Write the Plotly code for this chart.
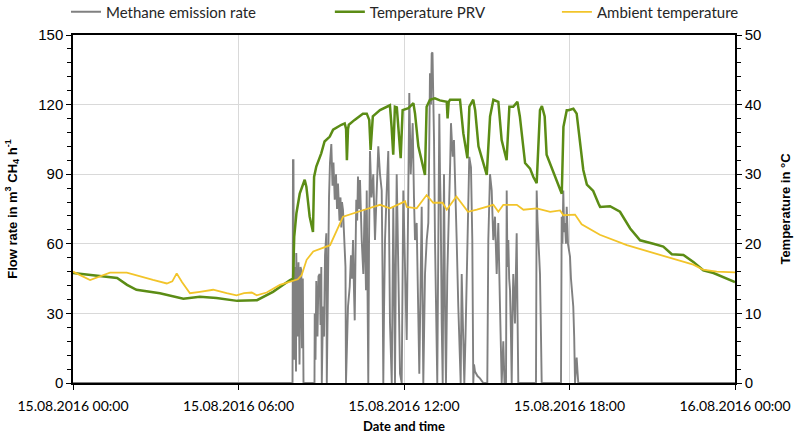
import pandas as pd
import plotly.graph_objects as go

# ---------------- data ----------------
day = "2016-08-15"

# Methane emission rate, m3 CH4 / h  (time in minutes after 00:00)
methane_min = [0, 477.5, 478.5, 479.6, 480.7, 482.9, 485.1, 485.7, 488.3, 490.5, 492.7, 494.9, 496.6,
               498.1, 499.9, 501.4, 525.3, 525.8, 527.5, 529.2, 531.8, 534.0, 536.6, 538.4, 540.1,
               541.2, 543.8, 546.0, 548.2, 551.0, 552.1, 554.7, 556.9, 559.0, 561.9, 564.5, 566.6,
               569.3, 572.1, 574.3, 576.4, 579.7, 581.9, 583.6, 585.1, 587.3, 591.0, 592.7, 593.8,
               596.0, 598.2, 601.9, 604.7, 606.9, 609.1, 611.2, 612.8, 614.5, 616.2, 618.2, 619.9,
               622.8, 624.3, 628.0, 631.5, 634.1, 637.3, 638.9, 640.6, 642.3, 643.9, 646.0, 649.3,
               653.2, 656.9, 660.2, 664.1, 667.8, 671.5, 673.2, 675.0, 676.5, 678.7, 681.9, 685.8,
               687.4, 689.5, 693.3, 695.0, 696.7, 698.7, 700.4, 702.2, 704.1, 705.9, 707.6, 711.3,
               715.0, 716.8, 718.5, 722.2, 725.9, 728.7, 731.5, 734.6, 738.9, 741.7, 743.9, 747.6,
               750.4, 753.3, 755.9, 758.5, 762.0, 763.9, 765.7, 769.4, 772.9, 774.8, 776.5, 778.7,
               780.2, 782.0, 784.2, 785.3, 787.4, 789.6, 791.1, 792.4, 794.6, 796.8, 798.3, 799.8,
               802.0, 804.2, 805.5, 807.0, 809.2, 811.3, 814.2, 816.3, 818.5, 820.5, 822.2, 825.9,
               828.7, 830.9, 834.6, 838.1, 840.3, 843.3, 845.5, 847.3, 849.0, 851.2, 853.8, 856.0,
               857.7, 859.9, 862.0, 865.7, 868.6, 870.7, 872.3, 874.4, 879.9, 885.3, 892.5, 901.2,
               903.4, 907.1, 910.8, 914.2, 917.9, 921.6, 925.1, 928.8, 931.0, 932.5, 936.0, 938.6,
               941.9, 943.4, 945.1, 946.9, 948.8, 950.6, 952.7, 954.3, 956.0, 957.7, 959.7, 961.4,
               963.6, 965.1, 966.9, 968.6, 1007.1, 1008.6, 1010.4, 1012.1, 1014.1, 1015.8, 1018.0,
               1019.5, 1061.5, 1063.0, 1064.7, 1066.5, 1068.4, 1070.2, 1072.3, 1073.9, 1076.7,
               1081.1, 1083.2, 1085.4, 1088.2, 1090.2, 1092.0, 1093.7, 1095.6, 1097.4, 1099.1, 1440]
methane_rate = [0, 0, 96, 96, 10, 50, 5, 56, 20, 52, 8, 50, 48.7,
                15, 45, 0, 0, 30, 10, 44, 20, 46, 47, 25, 50,
                0, 33, 20, 55, 64.5, 0, 61.6, 80, 95, 103, 85, 95,
                79, 90, 75, 86, 70, 80, 67, 78, 74.6, 61.6, 50, 0,
                20, 33, 41.5, 55, 45, 61.6, 40, 27, 55, 79, 70, 89,
                75, 87.5, 61.6, 47, 75, 40, 83, 50, 0, 60, 100, 80,
                90, 61.6, 85, 102, 90, 83, 50, 0, 30, 61.6, 80, 100,
                70, 26, 0, 40, 76, 40, 0, 50, 90, 70, 47, 4,
                0, 40, 83, 50, 18.5, 70, 125, 90, 112, 80, 61.6, 69,
                30, 4, 40, 76, 0, 30, 47, 61.6, 69, 100, 133.5, 120,
                142, 142.5, 120, 104.7, 61.6, 40, 18.5, 0, 60, 116, 90, 76,
                25.7, 0, 50, 90, 33, 0, 47, 60, 76, 95, 112, 97.5,
                104.7, 83, 61.6, 33, 18.5, 0, 47, 30, 18.5, 0, 20, 45,
                61.6, 80, 97.5, 93, 61.6, 0, 8, 5, 3, 2, 0, 0,
                61.6, 90, 83, 61.6, 71.7, 47, 69, 33, 11, 0, 18, 0,
                0, 83, 50, 61.6, 45, 40, 20, 0, 30, 47, 35, 25.7,
                50, 64.5, 30, 0, 0, 83, 70, 61.6, 55, 47, 20,
                0, 0, 71.7, 60, 83, 65, 69, 60, 76, 60,
                54.5, 45, 40, 33, 20, 0, 5, 11, 5, 0, 0]

# Temperature PRV, deg C (time in hours after 00:00)
prv_hour = [0.0, 0.73, 1.6, 1.96, 2.3, 3.15, 3.5, 4.0, 4.6, 5.2, 5.95, 6.67, 7.25, 7.5, 7.87, 7.98,
            8.02, 8.1, 8.22, 8.4, 8.46, 8.58, 8.7, 8.74, 8.82, 9.0, 9.12, 9.31, 9.43, 9.73, 9.85,
            9.9, 9.93, 9.97, 10.0, 10.21, 10.51, 10.65, 10.74, 10.79, 10.87, 11.13, 11.49, 11.55,
            11.61, 11.67, 11.74, 11.83, 11.88, 11.95, 12.16, 12.34, 12.4, 12.52, 12.7, 12.76,
            12.82, 12.94, 13.12, 13.3, 13.55, 13.58, 13.62, 13.67, 14.03, 14.15, 14.3, 14.37,
            14.51, 14.58, 14.7, 15.0, 15.12, 15.24, 15.42, 15.54, 15.72, 15.82, 15.96, 16.11,
            16.2, 16.39, 16.57, 16.69, 16.81, 16.93, 17.0, 17.1, 17.17, 17.41, 17.72, 17.78,
            17.9, 17.96, 18.14, 18.26, 18.44, 18.5, 18.63, 18.86, 19.05, 19.11, 19.47, 19.83,
            20.2, 20.56, 21.04, 21.4, 21.71, 22.13, 22.49, 22.85, 23.22, 23.94, 24.0]
prv_temp = [15.8, 15.5, 15.1, 14.1, 13.4, 12.9, 12.6, 12.1, 12.4, 12.2, 11.8, 11.9, 13.1, 13.8, 14.8, 15.0,
            21.0, 24.4, 27.2, 29.2, 28.2, 23.9, 21.7, 29.6, 31.1, 33.0, 34.7, 35.4, 36.4, 37.1, 37.3,
            36.5, 32.0, 36.5, 37.1, 37.8, 38.7, 38.7, 37.8, 33.5, 38.3, 39.2, 39.9, 36.8,
            32.8, 39.7, 39.6, 34.9, 32.3, 39.2, 39.5, 40.2, 38.7, 34.0, 30.6, 29.9,
            39.7, 40.7, 40.9, 40.6, 40.4, 38.0, 40.4, 40.7, 40.7, 35.9, 32.3, 39.7,
            40.7, 39.2, 34.0, 29.9, 38.3, 40.7, 40.4, 34.9, 32.0, 39.7, 39.7, 40.4,
            38.3, 31.6, 30.8, 29.6, 28.7, 39.2, 39.8, 38.3, 32.8, 30.4, 27.2, 36.8,
            39.2, 39.2, 39.4, 38.7, 33.0, 30.6, 28.5, 27.6, 25.8, 25.3, 25.4, 24.6,
            22.2, 20.5, 20.0, 19.6, 18.5, 18.4, 17.4, 16.2, 15.8, 14.6, 14.5]

# Ambient temperature, deg C (time in hours after 00:00)
amb_hour = [0.0, 0.62, 1.34, 1.95, 2.9, 3.4, 3.6, 3.76, 3.95, 4.24, 4.6, 5.08, 5.57, 5.93, 6.2, 6.48,
            6.66, 7.02, 7.5, 7.98, 8.15, 8.29, 8.47, 8.71, 9.32, 9.79, 10.29, 10.65, 11.13, 11.49,
            12.04, 12.1, 12.46, 12.82, 13.06, 13.4, 13.55, 13.9, 14.32, 14.64, 15.24, 15.42, 15.6,
            16.09, 16.33, 16.81, 17.3, 17.66, 17.78, 18.2, 18.44, 19.1, 20.08, 21.28, 22.49, 22.84,
            23.34, 24.0]
amb_temp = [16.0, 14.8, 15.85, 15.85, 14.8, 14.3, 14.6, 15.75, 14.5, 12.9, 13.1, 13.4, 12.9, 12.6, 12.9, 13.0,
            12.6, 13.0, 14.1, 14.7, 14.9, 15.5, 17.7, 18.9, 19.8, 23.9, 24.6, 25.0, 25.6, 25.1,
            26.1, 25.3, 25.1, 27.0, 25.9, 25.9, 24.9, 26.8, 24.6, 24.9, 25.6, 24.6, 25.6,
            25.6, 24.9, 25.1, 24.6, 24.8, 24.1, 24.2, 22.8, 21.3, 19.8, 18.4, 17.0, 16.3,
            16.0, 15.9]

series_names = ["Methane emission rate", "Temperature PRV", "Ambient temperature"]
x_tick_hours = [0, 6, 12, 18, 24]
x_tick_labels = ["15.08.2016 00:00", "15.08.2016 06:00", "15.08.2016 12:00",
                 "15.08.2016 18:00", "16.08.2016 00:00"]

# ---------------- build ----------------
base = pd.Timestamp(day)
t_meth = base + pd.to_timedelta(methane_min, unit="m")
t_prv = base + pd.to_timedelta(prv_hour, unit="h")
t_amb = base + pd.to_timedelta(amb_hour, unit="h")
tick_vals = [base + pd.Timedelta(hours=h) for h in x_tick_hours]

GRAY = "#808080"
GREEN = "#5B8C15"
YELLOW = "#F2C42A"
GRID = "#D9D9D9"
CAL = "Lato, 'Open Sans', sans-serif"
ARI = "'Liberation Sans', Arial, sans-serif"

fig = go.Figure()
fig.add_trace(go.Scatter(x=t_meth, y=methane_rate, mode="lines", name=series_names[0],
                         line=dict(color=GRAY, width=1.9), legend="legend", showlegend=True))
fig.add_trace(go.Scatter(x=t_prv, y=prv_temp, mode="lines", name=series_names[1], yaxis="y2",
                         line=dict(color=GREEN, width=2.5), legend="legend2", showlegend=True))
fig.add_trace(go.Scatter(x=t_amb, y=amb_temp, mode="lines", name=series_names[2], yaxis="y2",
                         line=dict(color=YELLOW, width=1.8), legend="legend3", showlegend=True))

leg_common = dict(orientation="h", yanchor="middle", y=1.066, xanchor="left",
                  font=dict(family=CAL, size=15, color="#262626"), bgcolor="rgba(0,0,0,0)",
                  itemwidth=30)
fig.update_layout(
    width=794, height=435,
    showlegend=True,
    margin=dict(l=73, r=59, t=35, b=52, autoexpand=False),
    paper_bgcolor="white", plot_bgcolor="white",
    legend=dict(x=-0.0106, **leg_common),
    legend2=dict(x=0.388, **leg_common),
    legend3=dict(x=0.731, **leg_common),
    xaxis=dict(
        type="date",
        range=[tick_vals[0], tick_vals[-1]],
        tickvals=tick_vals, ticktext=x_tick_labels,
        showgrid=True, gridcolor=GRID, gridwidth=1,
        showline=True, linecolor="black", linewidth=2, mirror=True,
        ticks="outside", ticklen=5, tickcolor="black",
        ticklabelstandoff=4,
        tickfont=dict(family=CAL, size=14, color="black"),
        title=dict(text="<b>Date and time</b>", font=dict(family=CAL, size=13, color="black"),
                   standoff=9),
        zeroline=False,
    ),
    yaxis=dict(
        range=[0, 150], dtick=30, tick0=0,
        showgrid=True, gridcolor=GRID, gridwidth=1,
        showline=True, linecolor="black", linewidth=1.5,
        ticks="outside", ticklen=5, tickcolor="black",
        minor=dict(dtick=6, ticks="outside", ticklen=4, tickcolor="black", showgrid=False),
        tickfont=dict(family=ARI, size=15, color="black"),
        title=dict(text="<b>Flow rate in m<sup>3</sup> CH<sub>4</sub> h<sup>-1</sup></b>",
                   font=dict(family=ARI, size=13, color="black"), standoff=18),
        zeroline=False,
    ),
    yaxis2=dict(
        overlaying="y", side="right",
        range=[0, 50], dtick=10, tick0=0,
        showgrid=False,
        showline=True, linecolor="black", linewidth=1.5,
        ticks="outside", ticklen=5, tickcolor="black",
        minor=dict(dtick=2, ticks="outside", ticklen=4, tickcolor="black", showgrid=False),
        tickfont=dict(family=ARI, size=15, color="black"),
        title=dict(text="<b>Temperature in °C</b>", font=dict(family=ARI, size=13, color="black"),
                   standoff=20),
        zeroline=False,
    ),
)

fig.write_html("out.html", config={"displayModeBar": False},
               post_script="document.body.style.margin='0';")
